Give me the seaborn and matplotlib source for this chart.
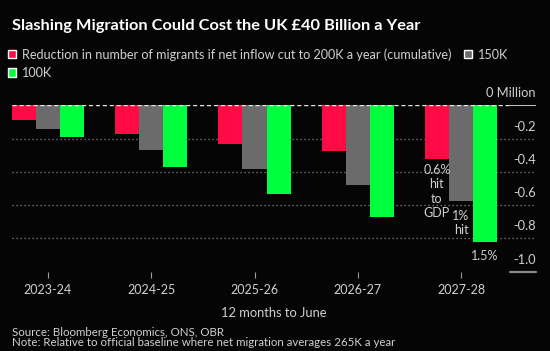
import numpy as np
import pandas as pd
import seaborn as sns
import matplotlib.pyplot as plt
from matplotlib.patches import Patch
import matplotlib.transforms as mtransforms

# ---- data ----
years = ['2023-24', '2024-25', '2025-26', '2026-27', '2027-28']
cut_200k = [-0.09, -0.17, -0.23, -0.276, -0.323]
cut_150k = [-0.142, -0.27, -0.382, -0.476, -0.573]
cut_100k = [-0.192, -0.37, -0.532, -0.673, -0.822]
series_labels = ['Reduction in number of migrants if net inflow cut to 200K a year (cumulative)',
                 '150K', '100K']
y_ticks = [0.0, -0.2, -0.4, -0.6, -0.8, -1.0]
y_tick_labels = ['0 Million', '-0.2', '-0.4', '-0.6', '-0.8', '-1.0']
gdp_notes = ['0.6%\nhit\nto\nGDP', '1%\nhit', '1.5%']

title = 'Slashing Migration Could Cost the UK £40 Billion a Year'
x_label = '12 months to June'
source = 'Source: Bloomberg Economics, ONS, OBR'
note = 'Note: Relative to official baseline where net migration averages 265K a year'

BG = '#050505'
colors = ['#ff0a45', '#6b6b6b', '#00ff3c']
TXT = '#d0d0d0'

sns.set_theme(style='dark', rc={'axes.facecolor': BG, 'figure.facecolor': BG})
plt.rcParams['font.family'] = ['Lato', 'DejaVu Sans']

W, H = 550, 351
fig = plt.figure(figsize=(W / 100, H / 100), dpi=100, facecolor=BG)
ax_left, ax_right, y_zero, y_bottom = 12, 536, 105.3, 271.7
ax = fig.add_axes([ax_left / W, 1 - y_bottom / H, (ax_right - ax_left) / W, (y_bottom - y_zero) / H])
ax.set_facecolor(BG)

df = pd.DataFrame({
    'year': years * 3,
    'value': cut_200k + cut_150k + cut_100k,
    'series': [series_labels[0]] * 5 + [series_labels[1]] * 5 + [series_labels[2]] * 5,
})
sns.barplot(data=df, x='year', y='value', hue='series', hue_order=series_labels,
            palette=colors, width=0.7, gap=0, saturation=1, legend=False,
            linewidth=0, ax=ax, zorder=2)

spacing = 103.25
ax.set_xlim(-36 / spacing, (ax_right - 48) / spacing)
ax.set_ylim(-1.0, 0.0)
for s in ax.spines.values():
    s.set_visible(False)
ax.grid(False)

# gridlines
seg = (510 - ax_left) / (ax_right - ax_left)
for yv in y_ticks[1:-1]:
    ax.axhline(yv, color='#8a8a8a', lw=0.9, ls=(0, (1, 2.2)), zorder=1)
ax.axhline(0, xmin=0, xmax=seg, color='#e8e8e8', lw=1.0, ls=(0, (3, 2)), zorder=3)
ax.axhline(0, xmin=seg, xmax=1, color='#e8e8e8', lw=1.2, zorder=3)
ax.axhline(-1.0, xmin=seg, xmax=1, color='#8a8a8a', lw=1.6, zorder=3, clip_on=False)

# y labels above gridlines, right aligned
trans = mtransforms.blended_transform_factory(ax.transAxes, ax.transData)
for yv, lab in zip(y_ticks, y_tick_labels):
    ax.annotate(lab, xy=(1.0, yv), xycoords=trans, xytext=(0, 8.6), textcoords='offset points',
                ha='right', va='center', color=TXT, fontsize=9.3, annotation_clip=False)
ax.set_yticks([])
ax.set_ylabel('')

# x ticks
ax.tick_params(axis='x', bottom=True, length=4, width=0.8, color='#999999', pad=5,
               labelsize=9, labelcolor=TXT)
ax.set_xlabel(x_label, color=TXT, fontsize=9.3, labelpad=8)

# GDP-hit annotations below last group's bars
last = len(years) - 1
offs = [-0.2333, 0.0, 0.2333]
vals = [cut_200k[last], cut_150k[last], cut_100k[last]]
gaps = [-3.5, -6.5, -5.5]
for dx, v, txt, g in zip(offs, vals, gdp_notes, gaps):
    ax.annotate(txt, xy=(last + dx, v), xytext=(0, g), textcoords='offset points',
                ha='center', va='top', color=TXT, fontsize=9, linespacing=1.25,
                annotation_clip=False, zorder=4)

# title / legend / footer
fig.text(12.5 / W, 1 - 26 / H, title, color='white', fontsize=11.8, fontweight='bold',
         ha='left', va='center')
handles = [Patch(facecolor=colors[0], label=series_labels[0]),
           Patch(facecolor=colors[2], label=series_labels[2]),
           Patch(facecolor=colors[1], label=series_labels[1])]
fig.legend(handles=handles, loc='upper left', bbox_to_anchor=(8 / W, 1 - 48 / H), ncol=2,
           frameon=False, fontsize=9.1, labelcolor=TXT, handlelength=0.65, handleheight=0.65,
           handletextpad=0.45, columnspacing=1.0, labelspacing=0.5, borderpad=0, borderaxespad=0)
fig.text(12.5 / W, 1 - 332 / H, source, color=TXT, fontsize=8.3, ha='left', va='center')
fig.text(12.5 / W, 1 - 343 / H, note, color=TXT, fontsize=8.3, ha='left', va='center')

fig.savefig('out.png', dpi=100, facecolor=BG)
